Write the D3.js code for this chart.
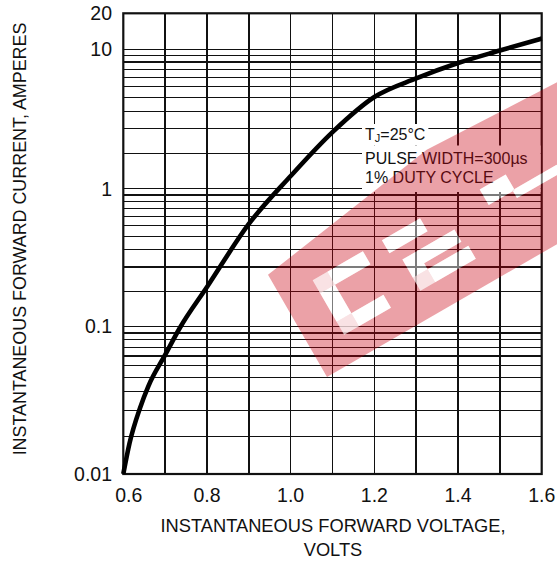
<!DOCTYPE html>
<html>
<head>
<meta charset="utf-8">
<script src="https://cdn.jsdelivr.net/npm/d3@7"></script>
<style>
  body { margin: 0; background: #fff; }
  svg { display: block; }
  text { font-family: "Liberation Sans", Arial, sans-serif; fill: #111; }
</style>
</head>
<body>
<svg id="chart" width="557" height="561"></svg>
<script>
/*
  Values
*/
var voltage = [0.600, 0.615, 0.640, 0.660, 0.700, 0.735, 0.80, 0.90, 1.00, 1.10, 1.20, 1.30, 1.40, 1.50, 1.60];
var current = [0.010, 0.0162, 0.028, 0.0394, 0.064, 0.0974, 0.193, 0.555, 1.235, 2.55, 4.55, 6.18, 7.97, 9.8, 12.3];

var xTicks = [0.6, 0.8, 1.0, 1.2, 1.4, 1.6];
var xTickLabels = ["0.6", "0.8", "1.0", "1.2", "1.4", "1.6"];
var xGrid = [0.7, 0.8, 0.9, 1.0, 1.1, 1.2, 1.3, 1.4, 1.5];

var yTicks = [0.01, 0.1, 1, 10, 20];
var yTickLabels = ["0.01", "0.1", "1", "10", "20"];
var decades = [0.01, 0.1, 1];
var decadeSteps = [1.8, 2.7, 3.6, 4.5, 5.4, 6.3, 7.2, 8.1, 9, 10];

var noteLines = ["PULSE WIDTH=300\u00b5s", "1% DUTY CYCLE"];
var xTitle = ["INSTANTANEOUS FORWARD VOLTAGE,", "VOLTS"];
var yTitle = "INSTANTANEOUS FORWARD CURRENT, AMPERES";

var svg = d3.select("#chart");

var x = d3.scaleLinear().domain([0.6, 1.6]).range([123.3, 541.7]);
// the printed grid gives each decade its own height, so the log scale is piecewise
var y = d3.scaleLog().domain([0.01, 0.1, 1, 10, 20]).range([474, 326.3, 188.8, 49.3, 13.3]);

/*
  Grid
*/
var hLines = [];
decades.forEach(function(d) {
  decadeSteps.forEach(function(s) { hLines.push(d * s); });
});

var grid = svg.append("g").attr("class", "grid")
  .attr("stroke", "#111").attr("stroke-width", 1.3).attr("shape-rendering", "crispEdges");

grid.selectAll("line.h").data(hLines).enter().append("line")
  .attr("class", "h")
  .attr("x1", x(0.6)).attr("x2", x(1.6))
  .attr("y1", function(d) { return y(d); })
  .attr("y2", function(d) { return y(d); });

grid.selectAll("line.v").data(xGrid).enter().append("line")
  .attr("class", "v")
  .attr("stroke-width", 1.6)
  .attr("y1", y(20)).attr("y2", y(0.01))
  .attr("x1", function(d) { return x(d); })
  .attr("x2", function(d) { return x(d); });

svg.append("rect")
  .attr("x", x(0.6)).attr("y", y(20))
  .attr("width", x(1.6) - x(0.6)).attr("height", y(0.01) - y(20))
  .attr("fill", "none").attr("stroke", "#111").attr("stroke-width", 2.2);

/*
  Curve
*/
var line = d3.line()
  .x(function(d, i) { return x(voltage[i]); })
  .y(function(d, i) { return y(current[i]); })
  .curve(d3.curveMonotoneX);

svg.append("path")
  .datum(voltage)
  .attr("d", line)
  .attr("fill", "none")
  .attr("stroke", "#000")
  .attr("stroke-width", 4.6)
  .attr("stroke-linecap", "butt");

/*
  Ticks and titles
*/
svg.append("g").selectAll("text").data(yTicks).enter().append("text")
  .attr("x", 112)
  .attr("y", function(d) { return y(d); })
  .attr("dy", "0.36em")
  .attr("text-anchor", "end")
  .attr("font-size", 19.5)
  .text(function(d, i) { return yTickLabels[i]; });

svg.append("g").selectAll("text").data(xTicks).enter().append("text")
  .attr("x", function(d, i) { return x(d) + (i === 0 ? 5.5 : 0); })
  .attr("y", 502)
  .attr("text-anchor", "middle")
  .attr("font-size", 19.5)
  .text(function(d, i) { return xTickLabels[i]; });

svg.append("g").selectAll("text").data(xTitle).enter().append("text")
  .attr("x", 333)
  .attr("y", function(d, i) { return 532 + i * 24; })
  .attr("text-anchor", "middle")
  .attr("font-size", 18.3)
  .text(function(d) { return d; });

svg.append("text")
  .attr("transform", "translate(26,239) rotate(-90)")
  .attr("text-anchor", "middle")
  .attr("font-size", 17.9)
  .text(yTitle);

/*
  Test conditions note, on a white patch over the grid
*/
var note = svg.append("g");
var patch = note.append("g").attr("fill", "#fff");
var t1 = note.append("text").attr("x", 365).attr("y", 140).attr("font-size", 16);
t1.append("tspan").text("T");
t1.append("tspan").attr("font-size", 11).attr("dy", 1.5).text("J");
t1.append("tspan").attr("dy", -1.5).text("=25\u00b0C");
note.selectAll("text.l").data(noteLines).enter().append("text")
  .attr("class", "l")
  .attr("x", 365)
  .attr("y", function(d, i) { return 164 + i * 19; })
  .attr("font-size", 16)
  .text(function(d) { return d; });

var b1 = t1.node().getBBox();
patch.append("rect").attr("x", b1.x - 3).attr("y", b1.y - 2)
  .attr("width", b1.width + 6).attr("height", b1.height + 4);
var b2 = note.selectAll("text.l").nodes().map(function(n) { return n.getBBox(); });
patch.append("rect").attr("x", b2[0].x - 3).attr("y", b1.y + b1.height + 2)
  .attr("width", b2[0].width + 16)
  .attr("height", b2[1].y + b2[1].height + 6 - (b1.y + b1.height + 2));

/*
  Red distributor watermark, drawn over everything
*/
var holes = [
  [36, 94, 76, 91], [36, 53, 28, 91], [36, 90, 28, 43],
  [116, 160, 76, 91], [124, 188, 28, 43], [124, 141, 28, 64], [141, 184, 50, 64],
  [226, 256, 68, 86], [254, 305, 60, 69]
];
function box(h) {
  return "M" + h[0] + "," + (-h[2]) + "H" + h[1] + "V" + (-h[3]) + "H" + h[0] + "Z";
}
var wm = svg.append("g").attr("transform", "translate(327,377) rotate(-30)");
wm.append("path")
  .attr("d", "M0,0H350V-140L200,-147L0,-118Z" + holes.map(box).join(""))
  .attr("fill-rule", "evenodd")
  .attr("fill", "#c8000f")
  .attr("fill-opacity", 0.37);
wm.selectAll("path.hole").data(holes).enter().append("path")
  .attr("class", "hole")
  .attr("d", box)
  .attr("fill", "#fff")
  .attr("fill-opacity", 0.45);
</script>
</body>
</html>
